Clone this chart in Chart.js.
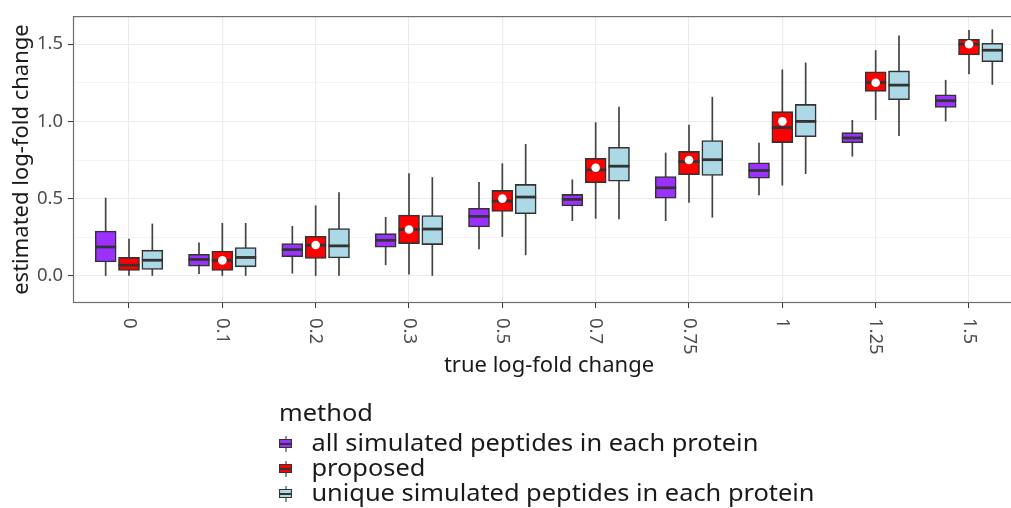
<!DOCTYPE html>
<html>
<head>
<meta charset="utf-8">
<script src="https://cdn.jsdelivr.net/npm/chart.js@4.4.0/dist/chart.umd.min.js"></script>
<style>
  html, body { margin: 0; padding: 0; background: #fff; overflow: hidden; }
  #wrap { position: relative; width: 1011px; height: 508px; overflow: hidden; }
  #lfc { position: absolute; left: 0; top: 0; }
  .legend { position: absolute; left: 279px; top: 400px; font-family: "Noto Sans", sans-serif; color: #1a1a1a;
            transform: scaleX(1.08); transform-origin: 0 0; }
  .legend .ltitle { font-size: 23.5px; line-height: 25px; margin-bottom: 5px; white-space: nowrap; }
  .legend .row { font-size: 23.5px; line-height: 25px; height: 25px; white-space: nowrap; display: flex; }
  .legend .key { position: relative; width: 12px; height: 16px; margin: 6px 18px 0 0; flex: none; }
  .legend .key .wh { position: absolute; left: 5.5px; top: 0; width: 1.2px; height: 16px; background: #333; }
  .legend .key .bx { position: absolute; left: 0; top: 3px; width: 10px; height: 7px; border: 1px solid #333; }
  .legend .key .md { position: absolute; left: 0; top: 6.5px; width: 12px; height: 2px; background: #333; }
</style>
</head>
<body>
<div id="wrap">
  <canvas id="lfc" width="1040" height="508"></canvas>
  <div class="legend" id="legend"></div>
</div>
<script>
// x categories: true log-fold change
const categories = ["0", "0.1", "0.2", "0.3", "0.5", "0.7", "0.75", "1", "1.25", "1.5"];
// true value marked on the proposed boxes (none at 0)
const trueDots = [null, 0.1, 0.2, 0.3, 0.5, 0.7, 0.75, 1, 1.25, 1.5];
const yTicks = [0, 0.5, 1, 1.5];

// box summaries: whisker low, Q1, median, Q3, whisker high
const allLo  = [0.000, 0.011, 0.015, 0.069, 0.172, 0.355, 0.355, 0.521, 0.772, 1.000];
const allQ1  = [0.090, 0.063, 0.123, 0.185, 0.316, 0.452, 0.503, 0.632, 0.861, 1.090];
const allMed = [0.187, 0.106, 0.170, 0.230, 0.385, 0.495, 0.570, 0.682, 0.893, 1.134];
const allQ3  = [0.290, 0.140, 0.209, 0.273, 0.437, 0.527, 0.643, 0.732, 0.927, 1.172];
const allHi  = [0.506, 0.215, 0.323, 0.381, 0.607, 0.624, 0.798, 0.861, 1.009, 1.269];

const propLo  = [0.000, 0.000, 0.000, 0.009, 0.252, 0.370, 0.474, 0.585, 1.009, 1.306];
const propQ1  = [0.035, 0.035, 0.112, 0.209, 0.417, 0.602, 0.655, 0.863, 1.194, 1.430];
const propMed = [0.069, 0.100, 0.198, 0.300, 0.484, 0.686, 0.740, 0.960, 1.252, 1.500];
const propQ3  = [0.119, 0.161, 0.256, 0.394, 0.553, 0.761, 0.806, 1.063, 1.321, 1.532];
const propHi  = [0.240, 0.342, 0.456, 0.665, 0.729, 0.994, 0.979, 1.336, 1.461, 1.592];

const uniqLo  = [0.000, 0.000, 0.000, 0.000, 0.134, 0.366, 0.377, 0.660, 0.906, 1.237];
const uniqQ1  = [0.041, 0.058, 0.116, 0.202, 0.402, 0.613, 0.650, 0.901, 1.140, 1.387];
const uniqMed = [0.101, 0.119, 0.194, 0.303, 0.510, 0.710, 0.752, 1.000, 1.235, 1.461];
const uniqQ3  = [0.166, 0.183, 0.306, 0.390, 0.592, 0.832, 0.876, 1.110, 1.327, 1.506];
const uniqHi  = [0.338, 0.342, 0.542, 0.639, 0.854, 1.095, 1.159, 1.381, 1.557, 1.596];

const methods = [
  { label: "all simulated peptides in each protein", color: "#9b30ff",
    lo: allLo, q1: allQ1, med: allMed, q3: allQ3, hi: allHi },
  { label: "proposed", color: "#ff0000",
    lo: propLo, q1: propQ1, med: propMed, q3: propQ3, hi: propHi },
  { label: "unique simulated peptides in each protein", color: "#add8e6",
    lo: uniqLo, q1: uniqQ1, med: uniqMed, q3: uniqQ3, hi: uniqHi },
];

// horizontal dodge of the three boxes inside a category (x units)
const dodge = [-0.25, 0, 0.25];
const BOX_W = 21;
const INK = "#333333";
const FONT = '"Noto Sans", sans-serif';

const boxSets = methods.map((m, k) => ({
  type: "bar",
  label: m.label,
  data: categories.map((c, i) => ({ x: i + dodge[k], y: [m.q1[i], m.q3[i]] })),
  backgroundColor: m.color,
  borderColor: INK,
  borderWidth: 1.6,
  borderSkipped: false,
  barThickness: BOX_W,
  grouped: false,
  stats: m,
  dodgeIdx: k,
}));

const dotSet = {
  type: "scatter",
  label: "true",
  data: trueDots.map((v, i) => (v === null ? null : { x: i, y: v })).filter(Boolean),
  pointRadius: 4.3,
  pointBackgroundColor: "#ffffff",
  pointBorderWidth: 0,
  order: -1,
};

// whiskers, medians, panel frame and the rotated x labels
const boxplotParts = {
  id: "boxplotParts",
  beforeDatasetsDraw(chart) {
    const { ctx, scales: { x, y } } = chart;
    ctx.save();
    ctx.strokeStyle = "#444444";
    ctx.lineWidth = 1.7;
    chart.data.datasets.forEach((ds) => {
      if (!ds.stats) return;
      categories.forEach((c, i) => {
        const px = x.getPixelForValue(i + dodge[ds.dodgeIdx]);
        ctx.beginPath();
        ctx.moveTo(px, y.getPixelForValue(ds.stats.lo[i]));
        ctx.lineTo(px, y.getPixelForValue(ds.stats.hi[i]));
        ctx.stroke();
      });
    });
    ctx.restore();
  },
  afterDatasetDraw(chart, args) {
    const ds = chart.data.datasets[args.index];
    if (!ds.stats) return;
    const { ctx, scales: { x, y } } = chart;
    ctx.save();
    ctx.strokeStyle = INK;
    ctx.lineWidth = 2.8;
    categories.forEach((c, i) => {
      const px = x.getPixelForValue(i + dodge[ds.dodgeIdx]);
      const py = y.getPixelForValue(ds.stats.med[i]);
      ctx.beginPath();
      ctx.moveTo(px - BOX_W / 2, py);
      ctx.lineTo(px + BOX_W / 2, py);
      ctx.stroke();
    });
    ctx.restore();
  },
  afterDraw(chart) {
    const { ctx, chartArea: a, scales: { x } } = chart;
    ctx.save();
    ctx.strokeStyle = "#6e6e6e";
    ctx.lineWidth = 1.2;
    ctx.strokeRect(a.left + 0.5, a.top + 0.5, a.right - a.left - 1, a.bottom - a.top - 1);

    ctx.fillStyle = "#4d4d4d";
    ctx.font = "18.5px " + FONT;
    ctx.textAlign = "left";
    ctx.textBaseline = "middle";
    categories.forEach((c, i) => {
      ctx.save();
      ctx.translate(x.getPixelForValue(i), a.bottom + 15);
      ctx.rotate(Math.PI / 2);
      ctx.fillText(c, 0, 0);
      ctx.restore();
    });

    ctx.fillStyle = "#1a1a1a";
    ctx.font = "22px " + FONT;
    ctx.textAlign = "center";
    ctx.textBaseline = "alphabetic";
    ctx.fillText("true log-fold change", (a.left + a.right) / 2, 372);
    ctx.restore();
  },
};

const isMajor = (v) => Math.abs(v * 2 - Math.round(v * 2)) < 1e-6;

new Chart(document.getElementById("lfc"), {
  data: { datasets: [...boxSets, dotSet] },
  options: {
    responsive: false,
    animation: false,
    devicePixelRatio: 1,
    layout: { padding: { top: 15, right: 15, left: 0, bottom: 0 } },
    plugins: { legend: { display: false }, tooltip: { enabled: false } },
    scales: {
      x: {
        type: "linear",
        offset: false,
        min: -0.6,
        max: 9.6,
        afterFit: (s) => { s.height = 205; },
        afterBuildTicks: (s) => { s.ticks = categories.map((c, i) => ({ value: i })); },
        ticks: { display: false },
        border: { display: false },
        grid: { offset: false, color: "#ebebeb", lineWidth: 1.1, tickLength: 5, tickColor: INK, tickWidth: 1 },
      },
      y: {
        type: "linear",
        min: -0.176,
        max: 1.682,
        afterFit: (s) => { s.width = 73; },
        afterBuildTicks: (s) => {
          const t = [];
          for (let v = 0; v <= 1.5001; v += 0.25) t.push({ value: +v.toFixed(2) });
          s.ticks = t;
        },
        border: { display: false },
        grid: {
          color: "#ebebeb",
          lineWidth: (c) => (isMajor(c.tick.value) ? 1.1 : 0.55),
          tickLength: 5,
          tickColor: (c) => (isMajor(c.tick.value) ? INK : "rgba(0,0,0,0)"),
          tickWidth: 1,
        },
        ticks: {
          color: "#4d4d4d",
          font: { family: FONT, size: 18.5 },
          padding: 5,
          callback: (v) => (yTicks.some((t) => Math.abs(t - v) < 1e-6) ? v.toFixed(1) : ""),
        },
        title: {
          display: true,
          text: "estimated log-fold change",
          color: "#1a1a1a",
          font: { family: FONT, size: 22 },
          padding: { top: 8.8, bottom: 0 },
        },
      },
    },
  },
  plugins: [boxplotParts],
});

// legend below the panel, one mini box glyph per method
const legend = document.getElementById("legend");
legend.innerHTML = '<div class="ltitle">method</div>' + methods.map((m) =>
  '<div class="row"><span class="key"><span class="wh"></span>' +
  '<span class="bx" style="background:' + m.color + '"></span><span class="md"></span></span>' +
  m.label + '</div>').join("");
</script>
</body>
</html>
